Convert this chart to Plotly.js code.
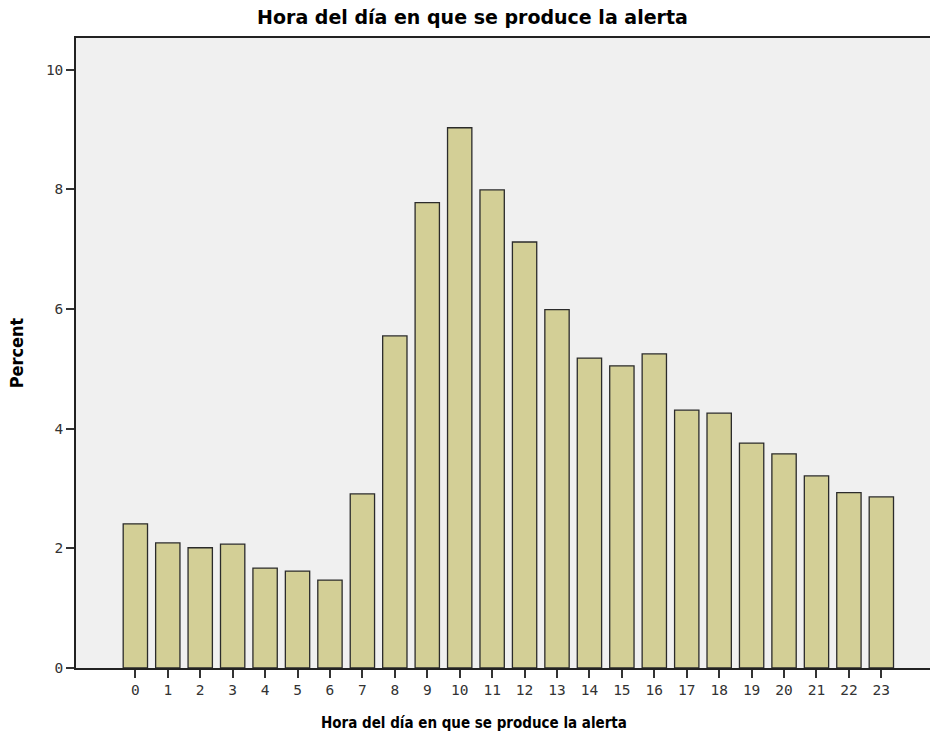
<!DOCTYPE html>
<html><head><meta charset="utf-8">
<script src="https://cdn.plot.ly/plotly-3.0.1.min.js"></script>
<style>body{margin:0;background:#fff}#c{width:930px;height:736px}</style>
</head><body><div id="c"></div>
<script>
const hours = ["0","1","2","3","4","5","6","7","8","9","10","11","12","13","14","15","16","17","18","19","20","21","22","23"];
const percent = [2.41,2.09,2.01,2.07,1.67,1.62,1.47,2.91,5.55,7.78,9.03,7.99,7.12,5.99,5.18,5.05,5.25,4.31,4.26,3.76,3.58,3.21,2.93,2.86];
const titleText = "Hora del día en que se produce la alerta";
const xTitle = "Hora del día en que se produce la alerta";
const yTitle = "Percent";

const xIdx = hours.map((h,i)=>i);
const fam = 'DejaVu Sans Condensed, sans-serif';
Plotly.newPlot('c',[{
  type:'bar', x:xIdx, y:percent, width:0.75,
  marker:{color:'#d3cf96', line:{color:'#2b2b2b', width:1.3}},
  hoverinfo:'x+y'
}],{
  width:930, height:736,
  margin:{l:76,r:0,t:38,b:68},
  paper_bgcolor:'#ffffff', plot_bgcolor:'#f0f0f0',
  title:{text:titleText, x:0.508, xanchor:'center', y:0.977, yanchor:'middle',
    font:{family:'DejaVu Sans, Verdana, sans-serif', size:19, color:'#000', weight:'bold'}},
  xaxis:{range:[-1.83,24.5], tickvals:xIdx, ticktext:hours, showgrid:false, zeroline:false,
    showline:true, linecolor:'#222', linewidth:1.5, mirror:true,
    ticks:'outside', ticklen:8, tickcolor:'#333', tickwidth:1.5,
    tickfont:{family:'DejaVu Sans Mono', size:14.5, color:'#333'}},
  yaxis:{range:[0,10.53], tickvals:[0,2,4,6,8,10], showgrid:false, zeroline:false,
    showline:true, linecolor:'#222', linewidth:1.5,
    ticks:'outside', ticklen:8, tickcolor:'#333', tickwidth:1.5,
    tickfont:{family:'DejaVu Sans Mono', size:14.5, color:'#333'},
    title:{text:yTitle, standoff:18, font:{family:fam, size:18, color:'#000', weight:'bold'}}},
  annotations:[{text:xTitle, xref:'paper', yref:'paper', x:0.466, y:-0.0873,
    xanchor:'center', yanchor:'middle', showarrow:false,
    font:{family:fam, size:15, color:'#000', weight:'bold'}}],
  bargap:0.25, showlegend:false
},{displayModeBar:false});
</script></body></html>
